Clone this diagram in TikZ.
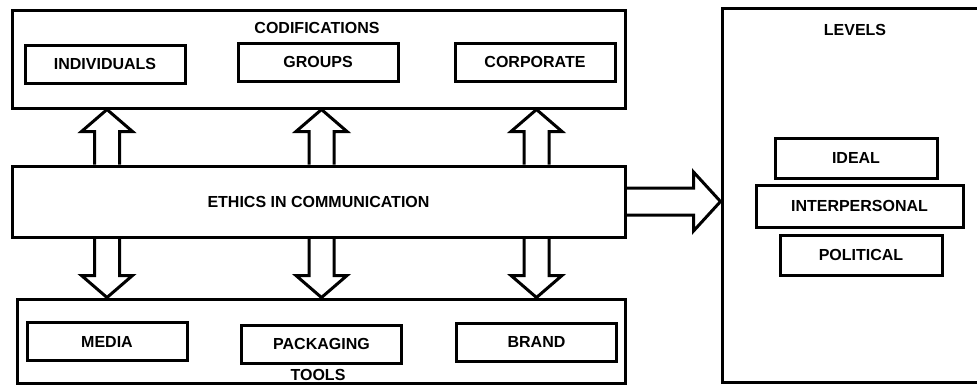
\documentclass[tikz,border=0pt]{standalone}
\usepackage{fontspec}
\setmainfont{Liberation Sans}
\usetikzlibrary{calc}

\tikzset{
  frame/.style={draw, line width=3pt, inner sep=0pt, font=\fontsize{16}{19}\selectfont\bfseries},
  item/.style={draw, line width=3pt, inner sep=0pt, minimum width=160pt, minimum height=38pt,
    font=\fontsize{16}{19}\selectfont\bfseries},
  title/.style={inner sep=0pt, font=\fontsize{16}{19}\selectfont\bfseries},
  blockarrow/.style={draw, line width=3pt, miter limit=20}
}

% hollow block arrows: tail, tip, head length (signed)
\newcommand{\vblock}[3]{%
  \draw[blockarrow] ($#1+(-12.5,0)$) -- ($#2+(-12.5,#3)$) -- ($#2+(-25.5,#3)$) -- #2
    -- ($#2+(25.5,#3)$) -- ($#2+(12.5,#3)$) -- ($#1+(12.5,0)$);}
\newcommand{\hblock}[2]{%
  \draw[blockarrow] ($#1+(0,-13.5)$) -- ($#2+(-27,-13.5)$) -- ($#2+(-27,-29.5)$) -- #2
    -- ($#2+(-27,29.5)$) -- ($#2+(-27,13.5)$) -- ($#1+(0,13.5)$);}

\begin{document}
\begin{tikzpicture}[x=1pt,y=-1pt]
    \useasboundingbox (0,0) rectangle (977,384);
    \clip (0,0) rectangle (977,384);

    % codifications
    \node[frame, minimum width=613pt, minimum height=98pt] (codif) at (318.5,59) {};
    \node[title] (codiftitle) at (317,28) {CODIFICATIONS};
    \node[item] (indiv) at (105,64) {INDIVIDUALS};
    \node[item] (groups) at (318,62) {GROUPS};
    \node[item] (corp) at (535,62) {CORPORATE};

    % centre
    \node[frame, minimum width=613pt, minimum height=71pt] (ethics) at (318.5,201.5) {ETHICS IN COMMUNICATION};

    % tools
    \node[frame, minimum width=608pt, minimum height=84pt] (tools) at (321,341) {};
    \node[title] (toolstitle) at (318,375) {TOOLS};
    \node[item] (media) at (107,341.5) {MEDIA};
    \node[item] (packaging) at (321.5,344) {PACKAGING};
    \node[item] (brand) at (536.5,342) {BRAND};

    % levels
    \node[frame, minimum width=270pt, minimum height=374pt] (levels) at (857,195) {};
    \node[title] (levelstitle) at (855,30) {LEVELS};
    \node[item, minimum width=162pt, minimum height=40pt] (ideal) at (856,158) {IDEAL};
    \node[item, minimum width=207pt, minimum height=42pt] (interp) at (859.5,206) {INTERPERSONAL};
    \node[item, minimum width=162pt, minimum height=40pt] (political) at (861,255) {POLITICAL};

    % arrows
    \foreach \n in {media,packaging,brand} {
        \vblock{(\n |- ethics.north)}{(\n |- codif.south)}{22}
        \vblock{(\n |- ethics.south)}{(\n |- tools.north)}{-22}
    }
    \hblock{(ethics.east)}{(levels.west |- ethics.east)}
\end{tikzpicture}
\end{document}
